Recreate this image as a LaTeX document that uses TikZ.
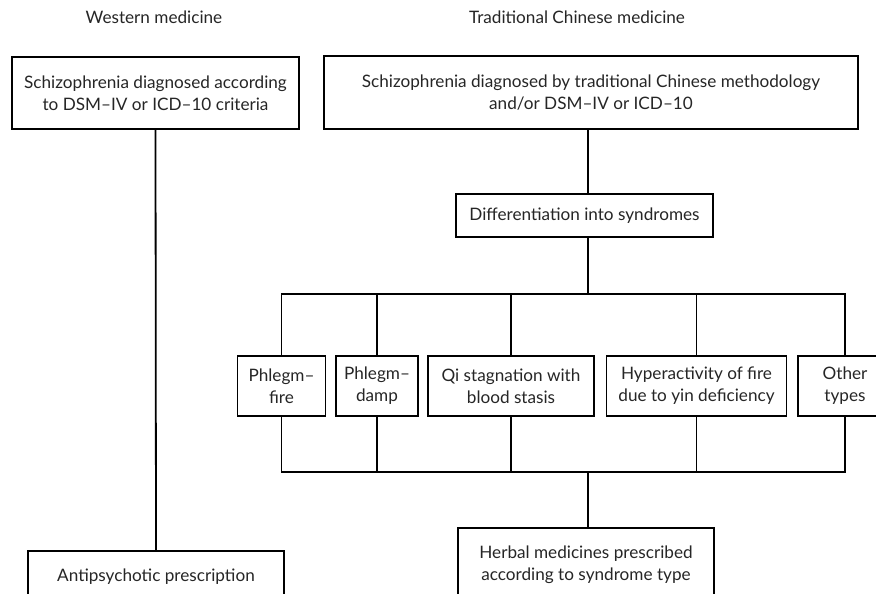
\documentclass[tikz,border=0pt]{standalone}
\usepackage{fontspec}
\setmainfont{Lato}
\newlength\refwidthlen
\AtBeginDocument{\settowidth\refwidthlen{\normalfont\fontsize{10}{12}\selectfont Traditional Chinese medicine}}
\begin{document}
\begin{tikzpicture}[x=1pt,y=-1pt]
\pgfmathsetmacro\fsz{10*216/\refwidthlen}
\tikzset{
  box/.style={draw=black, line width=1.8pt, align=center, inner sep=0pt,
    font=\fontsize{\fsz}{22}\selectfont, text=black!85},
  ttl/.style={font=\fontsize{\fsz}{22}\selectfont, text=black!85, inner sep=0pt},
  ln/.style={line width=1.8pt, line join=miter}}
\clip (0,0) rectangle (876,594);
\useasboundingbox (0,0) rectangle (876,594);
\fill[white] (0,0) rectangle (876,594);

\node[ttl] (tw) at (154,17) {Western medicine};
\node[ttl] (tc) at (577,17) {Traditional Chinese medicine};

\node[box, minimum width=287pt, minimum height=72pt] (wtop) at (155.5,93)
  {Schizophrenia diagnosed according\\to DSM–IV or ICD–10 criteria};
\node[box, minimum width=534pt, minimum height=73pt] (ttop) at (591,92.5)
  {Schizophrenia diagnosed by traditional Chinese methodology\\and/or DSM–IV or ICD–10};
\node[box, minimum width=257pt, minimum height=43pt] (diff) at (584.5,215.5)
  {Differentiation into syndromes};

\node[box, minimum width=88pt, minimum height=60pt] (pf) at (281.5,386) {Phlegm–\\fire};
\node[box, minimum width=82pt, minimum height=60pt] (pd) at (377,386) {Phlegm–\\damp};
\node[box, minimum width=166pt, minimum height=60pt] (qi) at (511,386) {Qi stagnation with\\blood stasis};
\node[box, minimum width=180pt, minimum height=60pt] (hy) at (696.5,386) {Hyperactivity of fire\\due to yin deficiency};
\node[box, minimum width=94pt, minimum height=60pt] (ot) at (845,386) {Other\\types};

\node[box, minimum width=256pt, minimum height=74pt] (herb) at (586,565)
  {Herbal medicines prescribed\\according to syndrome type};
\node[box, minimum width=256pt, minimum height=52pt] (anti) at (156,577)
  {Antipsychotic prescription};

\coordinate (bt) at (588,294);
\coordinate (bb) at (588,472);

\draw[ln] (wtop.south) -- (anti.north);
\draw[ln] (ttop.south -| bt) -- (diff.north -| bt);
\draw[ln] (diff.south -| bt) -- (bt);
\draw[ln] (pf.north) -- (pf.north |- bt) -- (ot.north |- bt) -- (ot.north);
\draw[ln] (pd.north) -- (pd.north |- bt);
\draw[ln] (qi.north) -- (qi.north |- bt);
\draw[ln] (hy.north) -- (hy.north |- bt);
\draw[ln] (pf.south) -- (pf.south |- bb) -- (ot.south |- bb) -- (ot.south);
\draw[ln] (pd.south) -- (pd.south |- bb);
\draw[ln] (qi.south) -- (qi.south |- bb);
\draw[ln] (hy.south) -- (hy.south |- bb);
\draw[ln] (bb) -- (herb.north -| bb);
\end{tikzpicture}
\end{document}
